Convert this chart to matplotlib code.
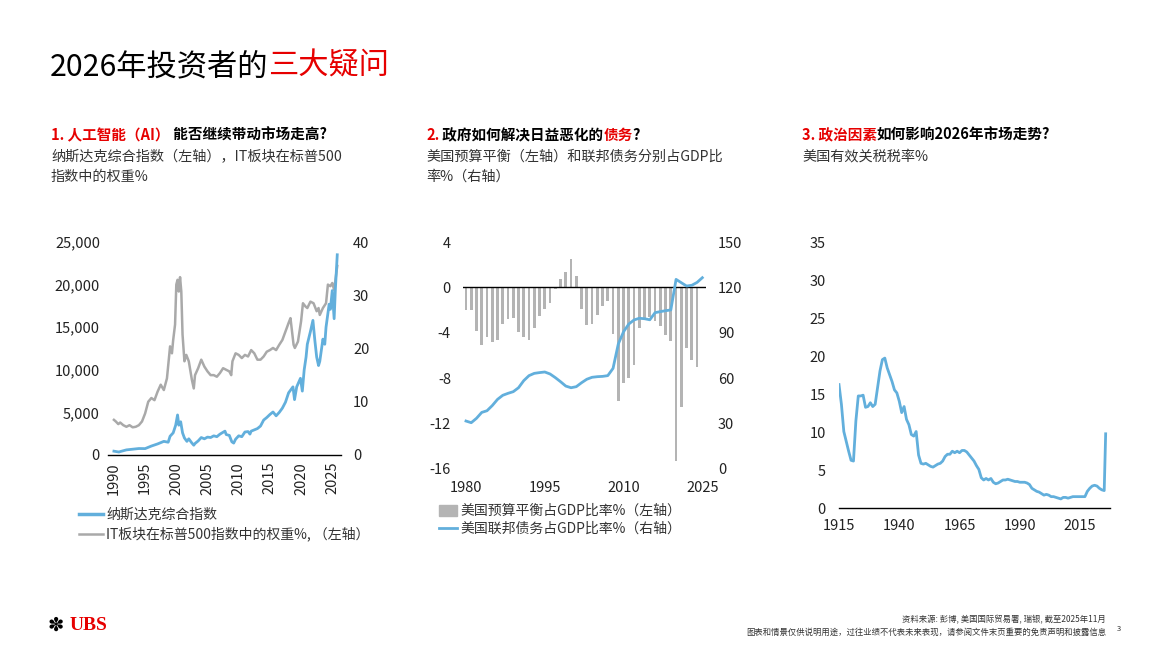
import numpy as np
import matplotlib
matplotlib.use('Agg')
import matplotlib.pyplot as plt
from matplotlib.lines import Line2D
from matplotlib.patches import Patch

plt.rcParams['font.family'] = ['Noto Sans CJK SC', 'DejaVu Sans']
plt.rcParams['axes.unicode_minus'] = False

W, H = 1174, 660
RED = '#e60000'
BLUE = '#62afdc'
GRAY = '#a9a9a9'
BAR = '#b4b4b4'
TXT = '#222222'

# ---- chart 1: Nasdaq composite (left) and IT weight in S&P 500 (right)
nas_years = [1990.0, 1990.8, 1991.0, 1992.0, 1993.0, 1994.0, 1995.0, 1996.0, 1997.0, 1998.0,
             1998.7, 1999.0, 1999.5, 1999.9, 2000.2, 2000.4, 2000.7, 2001.0, 2001.3, 2001.7,
             2002.0, 2002.5, 2002.8, 2003.0, 2003.5, 2004.0, 2004.5, 2005.0, 2005.5, 2006.0,
             2006.5, 2007.0, 2007.8, 2008.0, 2008.5, 2008.9, 2009.2, 2009.5, 2010.0, 2010.5,
             2011.0, 2011.5, 2011.8, 2012.0, 2012.5, 2013.0, 2013.5, 2014.0, 2014.5, 2015.0,
             2015.5, 2016.0, 2016.5, 2017.0, 2017.5, 2018.0, 2018.7, 2018.95, 2019.3, 2019.9,
             2020.2, 2020.5, 2020.8, 2021.0, 2021.5, 2021.9, 2022.2, 2022.5, 2022.8, 2023.0,
             2023.5, 2023.8, 2024.0, 2024.5, 2024.7, 2025.0, 2025.3, 2025.5, 2025.8]
nasdaq = [450, 350, 400, 600, 680, 760, 750, 1050, 1300, 1600,
          1500, 2200, 2600, 3500, 4700, 3500, 3900, 2600, 2000, 1600,
          1900, 1400, 1150, 1350, 1650, 2050, 1900, 2100, 2050, 2250,
          2150, 2450, 2800, 2400, 2300, 1550, 1400, 1850, 2250, 2150,
          2700, 2750, 2450, 2800, 2950, 3100, 3400, 4100, 4400, 4750,
          5050, 4600, 5000, 5500, 6200, 7300, 8000, 6500, 8000, 9000,
          7500, 10000, 11500, 13000, 14500, 15800, 13500, 11500, 10500, 11000,
          13600, 13000, 15000, 17700, 17100, 19300, 16000, 19500, 23500]

it_years = [1990.0, 1990.3, 1990.7, 1991.0, 1991.5, 1992.0, 1992.5, 1993.0, 1993.5, 1994.0,
            1994.5, 1995.0, 1995.5, 1996.0, 1996.5, 1997.0, 1997.5, 1998.0, 1998.5, 1999.0,
            1999.3, 1999.5, 1999.8, 2000.0, 2000.2, 2000.4, 2000.6, 2000.8, 2001.0, 2001.3,
            2001.6, 2002.0, 2002.5, 2002.8, 2003.0, 2003.5, 2004.0, 2004.5, 2005.0, 2005.5,
            2006.0, 2006.5, 2007.0, 2007.5, 2008.0, 2008.5, 2008.8, 2009.0, 2009.5, 2010.0,
            2010.5, 2011.0, 2011.5, 2012.0, 2012.5, 2013.0, 2013.5, 2014.0, 2014.5, 2015.0,
            2015.5, 2016.0, 2016.5, 2017.0, 2017.5, 2018.0, 2018.3, 2018.8, 2019.0, 2019.5,
            2020.0, 2020.3, 2020.7, 2021.0, 2021.5, 2022.0, 2022.5, 2022.8, 2023.0, 2023.5,
            2024.0, 2024.3, 2024.7, 2025.0, 2025.3, 2025.8]
it_weight = [6.6, 6.3, 5.8, 6.1, 5.6, 5.3, 5.6, 5.2, 5.3, 5.6,
             6.3, 7.8, 10.0, 10.7, 10.3, 11.9, 13.2, 12.2, 14.4, 20.4,
             19.1, 21.6, 24.5, 32.0, 32.9, 30.7, 33.4, 30.7, 22.6, 17.6,
             18.8, 17.6, 14.1, 12.5, 15.0, 16.3, 17.9, 16.6, 15.7, 15.0,
             15.0, 14.7, 15.4, 16.3, 16.0, 15.7, 15.0, 17.6, 19.1, 18.8,
             18.2, 18.8, 18.5, 19.7, 19.1, 17.9, 17.9, 18.5, 19.4, 19.7,
             20.1, 19.7, 20.7, 21.6, 23.2, 24.8, 25.7, 20.7, 20.1, 21.3,
             25.1, 28.5, 27.9, 27.6, 28.8, 28.5, 27.0, 27.6, 26.3, 27.6,
             28.5, 32.0, 31.7, 32.3, 31.0, 35.5]

# ---- chart 2: US budget balance % GDP (bars, left) and federal debt % GDP (line, right)
bal_years = list(range(1980, 2025))
balance = [-2.0, -2.0, -3.8, -5.1, -4.4, -4.8, -4.6, -3.2, -2.8, -2.7,
           -3.9, -4.4, -4.6, -3.6, -2.5, -1.9, -1.4, -0.1, 0.75, 1.4,
           2.5, 1.0, -1.9, -3.3, -3.2, -2.4, -1.6, -1.2, -4.1, -10.0,
           -8.4, -8.0, -6.8, -3.6, -2.9, -2.6, -3.0, -3.4, -4.2, -4.7,
           -15.3, -10.5, -5.3, -6.4, -7.0]
debt_years = list(range(1980, 2026))
debt = [31.7, 30.6, 33.5, 37.4, 38.5, 41.9, 46.0, 48.7, 50.0, 51.1,
        53.7, 58.4, 61.7, 63.2, 63.7, 64.1, 62.8, 60.4, 57.7, 54.8,
        53.7, 54.4, 57.0, 59.3, 60.6, 61.0, 61.2, 61.7, 66.5, 82.6,
        90.7, 95.8, 98.5, 99.6, 99.3, 98.6, 103.3, 104.0, 104.6, 105.1,
        125.3, 123.1, 120.9, 121.4, 123.3, 126.4]

# ---- chart 3: US effective tariff rate %
tar_years = list(range(1915, 2025)) + [2025.0, 2025.6]
tariff = [16.3, 13.7, 10.1, 8.8, 7.5, 6.3, 6.2, 11.5, 14.8, 14.8,
          14.9, 13.3, 13.4, 13.9, 13.4, 13.7, 15.9, 18.1, 19.6, 19.8,
          18.5, 17.6, 16.7, 15.6, 15.2, 14.1, 12.6, 13.4, 11.7, 11.0,
          9.7, 9.5, 10.1, 7.0, 5.9, 5.8, 5.9, 5.7, 5.5, 5.4,
          5.6, 5.8, 5.9, 6.2, 6.8, 7.1, 7.1, 7.5, 7.3, 7.5,
          7.3, 7.6, 7.6, 7.4, 7.0, 6.6, 6.2, 5.6, 5.1, 4.0,
          3.7, 3.9, 3.7, 3.9, 3.4, 3.2, 3.3, 3.5, 3.7, 3.7,
          3.8, 3.7, 3.6, 3.5, 3.5, 3.4, 3.4, 3.4, 3.3, 3.1,
          2.6, 2.4, 2.2, 2.1, 1.9, 1.7, 1.8, 1.7, 1.5, 1.5,
          1.4, 1.3, 1.2, 1.4, 1.4, 1.3, 1.4, 1.5, 1.5, 1.5,
          1.5, 1.5, 1.5, 2.2, 2.6, 2.9, 3.0, 2.9, 2.6, 2.4,
          2.3, 9.8]


def px(x0, y0, x1, y1):
    return [x0 / W, 1 - y1 / H, (x1 - x0) / W, (y1 - y0) / H]


def style_ticks(ax, pad_px):
    ax.tick_params(length=0, labelsize=10.5, colors=TXT, pad=pad_px * 0.72)


fig = plt.figure(figsize=(W / 100, H / 100), dpi=100)
bg = fig.add_axes([0, 0, 1, 1])
bg.set_xlim(0, W)
bg.set_ylim(H, 0)
bg.axis('off')


def rich(x, y, parts, size, weight='normal'):
    # chain coloured pieces of text on one line
    t = bg.text(x, y, parts[0][0], color=parts[0][1], fontsize=size,
                fontweight=weight, va='bottom', ha='left')
    for s, c in parts[1:]:
        t = bg.annotate(s, xy=(1, 0), xycoords=t, color=c, fontsize=size,
                        fontweight=weight, va='bottom', ha='left')
    return t


# title
rich(50, 82, [('2026年投资者的', 'black'), ('三大疑问', RED)], 21.8)

# section headings
rich(51, 143, [('1. 人工智能（AI）', RED), (' 能否继续带动市场走高?', 'black')], 10.5, 'bold')
rich(426, 143, [('2.', RED), (' 政府如何解决日益恶化的', 'black'), ('债务', RED), ('?', 'black')], 10.5, 'bold')
rich(802, 143, [('3. 政治因素', RED), ('如何影响2026年市场走势?', 'black')], 10.5, 'bold')

desc_kw = dict(fontsize=10.2, color='#333333', va='top', ha='left', linespacing=1.5)
bg.text(51, 150, '纳斯达克综合指数（左轴），IT板块在标普500\n指数中的权重%', **desc_kw)
bg.text(426, 150, '美国预算平衡（左轴）和联邦债务分别占GDP比\n率%（右轴）', **desc_kw)
bg.text(802, 150, '美国有效关税税率%', **desc_kw)

# ---------- chart 1
ax1 = fig.add_axes(px(108, 242, 341, 455))
ax1b = ax1.twinx()
ax1b.plot(it_years, it_weight, color=GRAY, lw=1.8)
ax1.plot(nas_years, nasdaq, color=BLUE, lw=2.0)
ax1.set_zorder(ax1b.get_zorder() + 1)
ax1.patch.set_visible(False)
ax1.set_xlim(1989.05, 2026.4)
ax1.set_ylim(0, 25000)
ax1b.set_ylim(0, 40)
ax1.set_yticks(range(0, 25001, 5000))
ax1.set_yticklabels([f'{v:,}' for v in range(0, 25001, 5000)])
ax1b.set_yticks(range(0, 41, 10))
ax1.set_xticks(range(1990, 2026, 5))
ax1.set_xticklabels([str(y) for y in range(1990, 2026, 5)], rotation=90)
for a in (ax1, ax1b):
    for s in a.spines.values():
        s.set_visible(False)
ax1.spines['bottom'].set_visible(True)
ax1.spines['bottom'].set_color('black')
ax1.spines['bottom'].set_linewidth(1.0)
style_ticks(ax1, 8)
ax1.tick_params(axis='x', pad=5)
style_ticks(ax1b, 12)
ax1.legend(handles=[Line2D([], [], color=BLUE, lw=2.5), Line2D([], [], color=GRAY, lw=1.8)],
           labels=['纳斯达克综合指数', 'IT板块在标普500指数中的权重%, （左轴）'],
           loc='upper left', bbox_to_anchor=(79 / W, 1 - 508 / H), bbox_transform=fig.transFigure,
           frameon=False, fontsize=10, handlelength=1.75, handletextpad=0.2,
           labelspacing=0.35, borderpad=0, borderaxespad=0, labelcolor='#333333')

# ---------- chart 2
ax2 = fig.add_axes(px(463, 242, 706, 469))
ax2b = ax2.twinx()
ax2.bar(bal_years, balance, width=0.52, color=BAR)
ax2.axhline(0, color='black', lw=1.0)
ax2b.plot(debt_years, debt, color=BLUE, lw=2.0)
ax2.set_xlim(1979.43, 2025.7)
ax2.set_ylim(-16, 4)
ax2b.set_ylim(0, 150)
ax2.set_yticks(range(-16, 5, 4))
ax2b.set_yticks(range(0, 151, 30))
ax2.set_xticks([1980, 1995, 2010, 2025])
for a in (ax2, ax2b):
    for s in a.spines.values():
        s.set_visible(False)
style_ticks(ax2, 12)
ax2.tick_params(axis='x', pad=9)
style_ticks(ax2b, 12)
ax2.legend(handles=[Patch(color=BAR), Line2D([], [], color=BLUE, lw=2.0)],
           labels=['美国预算平衡占GDP比率%（左轴）', '美国联邦债务占GDP比率%（右轴）'],
           loc='upper left', bbox_to_anchor=(439 / W, 1 - 504 / H), bbox_transform=fig.transFigure,
           frameon=False, fontsize=10, handlelength=1.3, handleheight=0.85, handletextpad=0.25,
           labelspacing=0.3, borderpad=0, borderaxespad=0, labelcolor='#333333')

# ---------- chart 3
ax3 = fig.add_axes(px(839, 243, 1110, 508))
ax3.plot(tar_years, tariff, color=BLUE, lw=2.0)
ax3.set_xlim(1915, 2027.4)
ax3.set_ylim(0, 35)
ax3.set_yticks(range(0, 36, 5))
ax3.set_xticks([1915, 1940, 1965, 1990, 2015])
for s in ax3.spines.values():
    s.set_visible(False)
ax3.spines['bottom'].set_visible(True)
ax3.spines['bottom'].set_color('black')
ax3.spines['bottom'].set_linewidth(1.0)
style_ticks(ax3, 13)
ax3.tick_params(axis='x', pad=8)

# ---------- footer
bg.text(48, 625, '✽', fontsize=14, color='black', va='center', ha='left', family='DejaVu Sans')
bg.text(70, 625, 'UBS', fontsize=14, color=RED, va='center', ha='left',
        family='Liberation Serif', fontweight='bold')
bg.text(1106, 620, '资料来源: 彭博, 美国国际贸易署, 瑞银, 截至2025年11月', fontsize=6,
        color='#333333', va='center', ha='right')
bg.text(1106, 632, '图表和情景仅供说明用途，过往业绩不代表未来表现，请参阅文件末页重要的免责声明和披露信息',
        fontsize=6, color='#333333', va='center', ha='right')
bg.text(1119, 629, '3', fontsize=5.5, color='#333333', va='center', ha='center')

fig.savefig('out.png', dpi=100)
